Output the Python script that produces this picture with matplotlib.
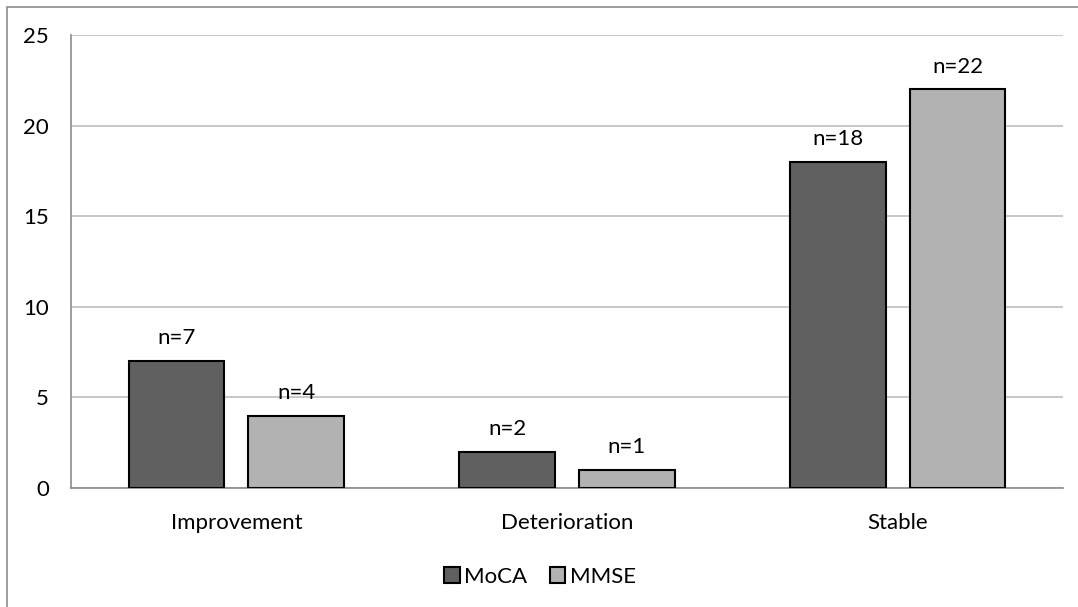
import matplotlib.pyplot as plt
import numpy as np
from matplotlib.patches import Rectangle

categories = ['Improvement', 'Deterioration', 'Stable']
moca = [7, 2, 18]
mmse = [4, 1, 22]
series_names = ['MoCA', 'MMSE']
yticks = [0, 5, 10, 15, 20, 25]

plt.rcParams['font.family'] = ['Lato', 'DejaVu Sans']
fs = 16

fig = plt.figure(figsize=(10.78, 6.07), dpi=100)
ax = fig.add_axes([71 / 1078, 1 - 488 / 607, 992 / 1078, 453 / 607])

# outer chart border
fig.patches.append(Rectangle((7 / 1078, -0.01), 1.1, 1 - 7 / 607 + 0.01,
                             transform=fig.transFigure, fill=False,
                             edgecolor='#8c8c8c', linewidth=1.2))

x = np.arange(len(categories))
w = 0.29
off = 0.181
b1 = ax.bar(x - off, moca, w, color='#606060', edgecolor='black', linewidth=1.5,
            label=series_names[0], zorder=3)
b2 = ax.bar(x + off, mmse, w, color='#b2b2b2', edgecolor='black', linewidth=1.5,
            label=series_names[1], zorder=3)

for bars, vals in [(b1, moca), (b2, mmse)]:
    for b, v in zip(bars, vals):
        ax.text(b.get_x() + b.get_width() / 2, v + 0.7, 'n=%d' % v,
                ha='center', va='bottom', fontsize=fs)

ax.set_xlim(-0.5, 2.5)
ax.set_ylim(0, 25)
ax.set_yticks(yticks)
ax.set_xticks(x)
ax.set_xticklabels(categories)
ax.tick_params(axis='both', length=0, labelsize=fs)
ax.tick_params(axis='y', pad=16)
ax.tick_params(axis='x', pad=18)
ax.yaxis.grid(True, color='#bdbdbd', linewidth=1.2, zorder=0)
for s in ['top', 'right']:
    ax.spines[s].set_visible(False)
ax.spines['left'].set_color('#8c8c8c')
ax.spines['bottom'].set_color('#8c8c8c')
ax.spines['left'].set_linewidth(1.2)
ax.spines['bottom'].set_linewidth(1.2)

fig.legend(handles=[b1, b2], loc='center', bbox_to_anchor=(540 / 1078, 1 - 577 / 607),
           ncol=2, frameon=False, fontsize=fs, handlelength=0.7, handleheight=0.7,
           handletextpad=0.2, columnspacing=1.0)

fig.savefig('out.png', dpi=100)
